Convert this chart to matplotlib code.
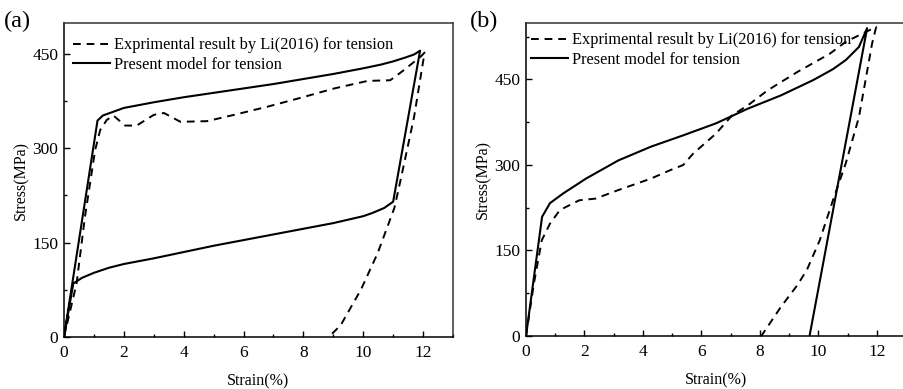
import matplotlib
matplotlib.use("Agg")
import matplotlib.pyplot as plt
from matplotlib.ticker import MultipleLocator

plt.rcParams['font.family'] = ['Liberation Serif', 'DejaVu Serif']

# Panel (a) data
a_model_x = [0, 1.12, 1.3, 2.0, 3.0, 4.0, 5.0, 6.0, 7.0, 8.0, 9.0, 10.0, 10.6, 11.0, 11.4, 11.7, 11.9,
             11.0, 10.7, 10.3, 10.0, 9.0, 8.0, 7.0, 6.0, 5.0, 4.0, 3.0, 2.0, 1.5, 1.0, 0.6, 0.31, 0]
a_model_y = [0, 344, 352, 364, 373, 381, 388, 395, 402, 410, 418, 427, 433, 438, 444, 449, 455,
             215, 205, 197, 192, 181, 172, 163, 154, 145, 135, 125, 116, 110, 102, 94, 85, 0]
a_exp_x = [0, 0.42, 0.7, 1.04, 1.21, 1.43, 1.65, 2.04, 2.43, 3.0, 3.34, 3.89, 4.78, 5.68, 6.8, 7.9,
           9.03, 10.15, 10.9, 11.3, 11.93, 12.05,
           11.7, 11.49, 11.2, 11.04, 10.48, 9.92, 9.25, 8.85]
a_exp_y = [0, 85, 191, 297, 329, 345, 352, 336, 336, 353, 356, 342, 343, 353, 366, 380,
           395, 407, 408, 422, 446, 452,
           350, 303, 239, 205, 133, 75, 19, 0]

# Panel (b) data
b_model_x = [0, 0.55, 0.82, 1.27, 2.05, 3.16, 4.27, 5.38, 6.5, 7.6, 8.72, 9.83, 10.5, 10.94, 11.39, 11.67, 9.7]
b_model_y = [0, 209, 233, 250, 276, 308, 332, 352, 373, 399, 422, 449, 468, 484, 507, 540, 0]
b_exp_x = [0, 0.27, 0.54, 0.82, 1.16, 1.82, 2.38, 3.16, 4.27, 4.94, 5.38, 5.72, 6.5, 7.05, 7.6, 8.27,
           9.28, 10.39, 10.94, 11.61, 11.98,
           11.84, 11.39, 10.94, 10.5, 10.05, 9.61, 9.28, 8.72, 8.05]
b_exp_y = [0, 92, 168, 197, 221, 238, 241, 256, 276, 291, 300, 320, 355, 387, 405, 431,
           463, 495, 516, 533, 542,
           513, 384, 303, 238, 168, 116, 89, 51, 0]

legend_labels = ["Exprimental result by Li(2016) for tension", "Present model for tension"]
x_ticks = [0, 2, 4, 6, 8, 10, 12]
y_ticks = [0, 150, 300, 450]

fig = plt.figure(figsize=(9.04, 3.89), dpi=100)
ax_a = fig.add_axes([64/904, 1-337/389, 389/904, 314/389])
ax_b = fig.add_axes([526/904, 1-336/389, 380/904, 313/389])

def style(ax, ylim_top):
    ax.set_xlim(0, 13)
    ax.set_ylim(0, ylim_top)
    ax.set_xticks(x_ticks)
    ax.set_yticks(y_ticks)
    ax.xaxis.set_minor_locator(MultipleLocator(1))
    ax.yaxis.set_minor_locator(MultipleLocator(75))
    ax.tick_params(which='both', direction='in', top=False, right=False, labelsize=12.5, width=1.0)
    ax.tick_params(axis='x', pad=6)
    ax.tick_params(axis='y', pad=4)
    ax.tick_params(which='major', length=4)
    ax.tick_params(which='minor', length=2.5)
    for s in ax.spines.values():
        s.set_linewidth(1.1)
        s.set_color('#333333')
    ax.spines['left'].set_color('black')
    ax.spines['bottom'].set_color('black')
    ax.set_xlabel('Strain(%)', fontsize=11.5, labelpad=9)
    ax.set_ylabel('Stress(MPa)', fontsize=11.5, labelpad=2)

ax_a.plot(a_exp_x, a_exp_y, 'k--', lw=1.4, dashes=(4, 3), label=legend_labels[0])
ax_a.plot(a_model_x, a_model_y, 'k-', lw=1.5, label=legend_labels[1])
style(ax_a, 499)

ax_b.plot(b_exp_x, b_exp_y, 'k--', lw=1.4, dashes=(4, 3), label=legend_labels[0])
ax_b.plot(b_model_x, b_model_y, 'k-', lw=1.5, label=legend_labels[1])
style(ax_b, 549)

for ax, loc in ((ax_a, (0.023, 0.954)), (ax_b, (0.013, 0.970))):
    ax.legend(loc='upper left', bbox_to_anchor=loc, frameon=False, fontsize=11.8,
              handlelength=2.25, handletextpad=0.25, labelspacing=0.2,
              borderaxespad=0, borderpad=0)

fig.text(4/904, 1-27/389, '(a)', fontsize=17.5)
fig.text(470/904, 1-27/389, '(b)', fontsize=17.5)

fig.savefig('out.png', dpi=100)
